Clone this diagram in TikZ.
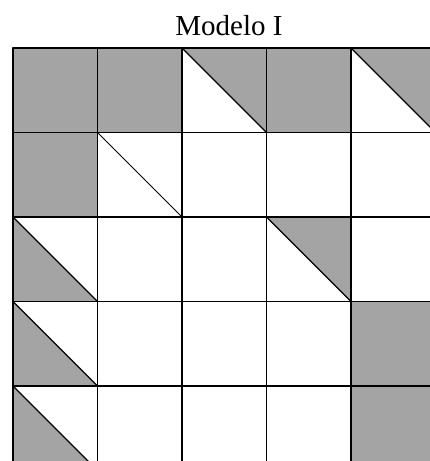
\documentclass[tikz,border=0pt]{standalone}
\usepackage{fontspec}
\setmainfont{Liberation Serif}
\definecolor{celda}{RGB}{164,164,164}
\begin{document}
\begin{tikzpicture}[x=1pt, y=-1pt, line join=round, line cap=round]
	\useasboundingbox (0,0) rectangle (430,461);
	\clip (0,0) rectangle (430,461);

	% --- titulo ---
	\node[font=\fontsize{29}{32}\selectfont, anchor=base] (titulo) at (229,35) {Modelo I};

	\begin{scope}[shift={(13,48)}, x=84.5pt, y=-84.5pt]
		% celdas grises
		\foreach \c/\r in {0/0, 1/0, 3/0, 0/1, 4/3, 4/4} {
			\fill[celda] (\c,\r) rectangle ++(1,1);
		}
		% triangulos arriba-derecha
		\foreach \c/\r in {2/0, 4/0, 3/2} {
			\fill[celda] (\c,\r) -- ++(1,0) -- ++(0,1) -- cycle;
		}
		% triangulos abajo-izquierda
		\foreach \c/\r in {0/2, 0/3, 0/4} {
			\fill[celda] (\c,\r) -- ++(0,1) -- ++(1,0) -- cycle;
		}
		% diagonales
		\foreach \c/\r in {2/0, 4/0, 3/2, 0/2, 0/3, 0/4} {
			\draw[line width=1.4pt] (\c,\r) -- ++(1,1);
		}
		\draw[line width=0.9pt] (1,1) -- (2,2);

		% --- cuadricula ---
		\foreach \i in {0,...,5} {
			\draw[line width=1.8pt] (\i,0) -- (\i,5);
			\draw[line width=1.8pt] (0,\i) -- (5,\i);
		}
	\end{scope}

\end{tikzpicture}
\end{document}
